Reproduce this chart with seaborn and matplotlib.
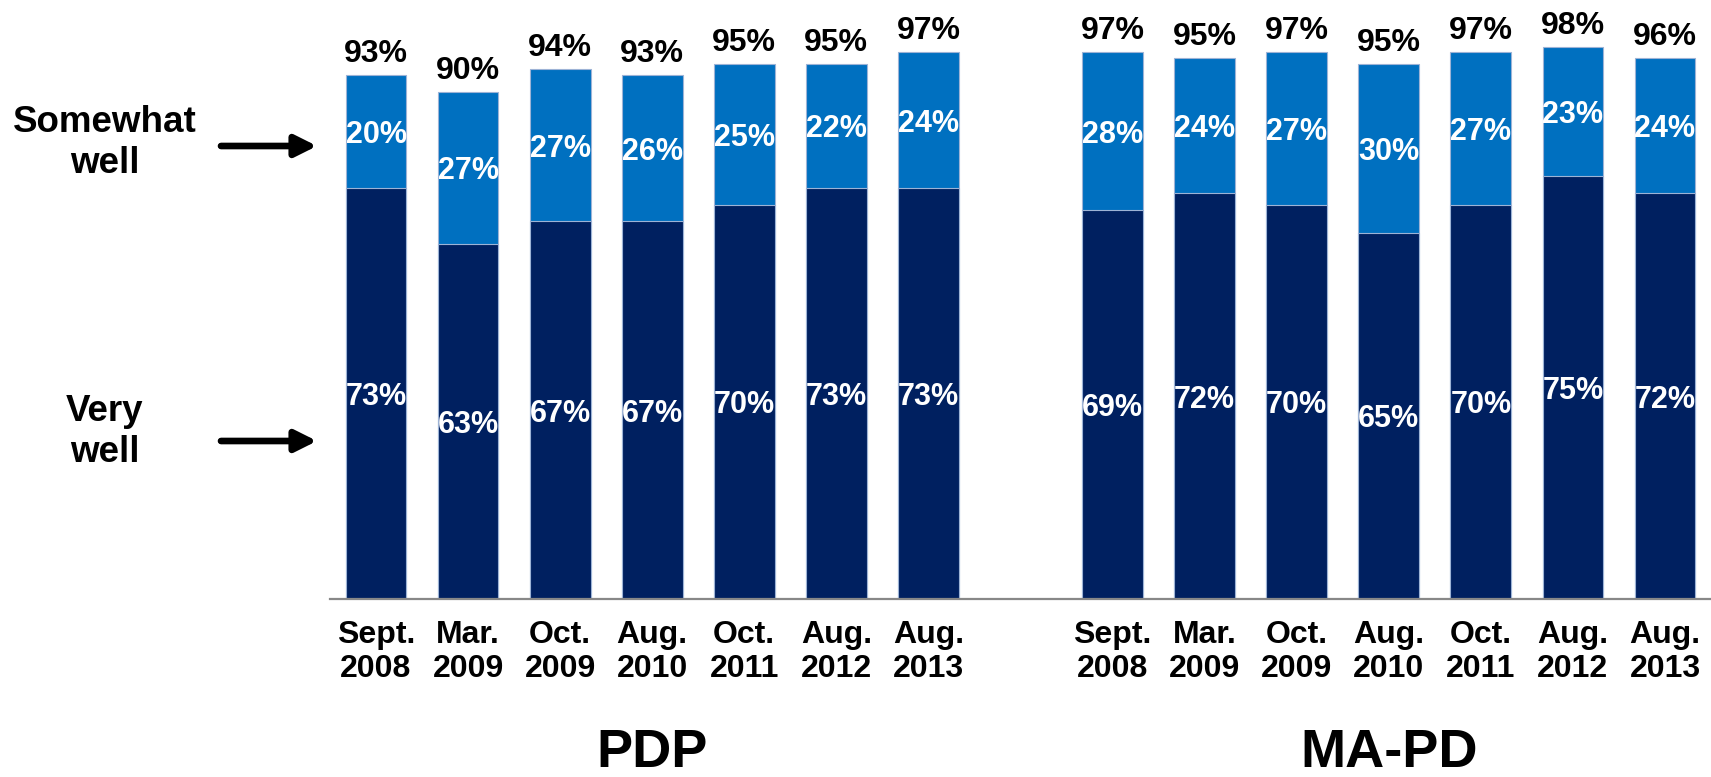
import matplotlib
matplotlib.use("Agg")
import matplotlib.pyplot as plt
import matplotlib.transforms as mtransforms
from matplotlib.patches import FancyArrowPatch
import seaborn as sns
import pandas as pd
import numpy as np

# ---- data ----
dates = ["Sept.\n2008", "Mar.\n2009", "Oct.\n2009", "Aug.\n2010",
         "Oct.\n2011", "Aug.\n2012", "Aug.\n2013"]
plans = ["PDP", "MA-PD"]
pdp_very = [73, 63, 67, 67, 70, 73, 73]
pdp_somewhat = [20, 27, 27, 26, 25, 22, 24]
pdp_total = [93, 90, 94, 93, 95, 95, 97]
mapd_very = [69, 72, 70, 65, 70, 75, 72]
mapd_somewhat = [28, 24, 27, 30, 27, 23, 24]
mapd_total = [97, 95, 97, 95, 97, 98, 96]
side_labels = ["Somewhat\nwell", "Very\nwell"]

LIGHT = "#0070C0"
DARK = "#002060"
FONT = ["Liberation Sans", "DejaVu Sans"]

rows = []
for plan, very, some, tot in [("PDP", pdp_very, pdp_somewhat, pdp_total),
                              ("MA-PD", mapd_very, mapd_somewhat, mapd_total)]:
    for d, v, s, t in zip(dates, very, some, tot):
        rows.append(dict(key=f"{plan}|{d}", plan=plan, date=d, very=v,
                         somewhat=s, stack=v + s, total=t))
df = pd.DataFrame(rows)
order = [f"PDP|{d}" for d in dates] + ["gap"] + [f"MA-PD|{d}" for d in dates]
tick_labels = dates + [""] + dates

sns.set_style("white")
plt.rcParams["font.family"] = FONT
plt.rcParams["text.color"] = "black"
plt.rcParams["xtick.labelcolor"] = "black"

W, H = 1711, 777
fig = plt.figure(figsize=(W / 100, H / 100), dpi=100)
ax_bottom_px = 599
ax = fig.add_axes([330 / W, (H - ax_bottom_px) / H, 1 - 330 / W, ax_bottom_px / H])

sns.barplot(data=df, x="key", y="stack", order=order, color=LIGHT, width=0.66,
            edgecolor="#9DB3D6", linewidth=0.8, saturation=1, ax=ax, errorbar=None)
sns.barplot(data=df, x="key", y="very", order=order, color=DARK, width=0.66,
            edgecolor="#9DB3D6", linewidth=0.8, saturation=1, ax=ax, errorbar=None)

ax.set_ylim(0, 106.3)
ax.set_xlim(-0.5, len(order) - 0.5)

# labels
pos = {k: i for i, k in enumerate(order)}
for _, r in df.iterrows():
    i = pos[r["key"]]
    ax.annotate(f"{r['total']}%", xy=(i, r["stack"]), xytext=(0, 9.4),
                textcoords="offset points", ha="center", va="baseline",
                fontsize=23, fontweight="bold", color="black")
    ax.annotate(f"{r['somewhat']}%", xy=(i, (r["very"] + r["stack"]) / 2),
                ha="center", va="center_baseline", fontsize=22,
                fontweight="bold", color="white")
    ax.annotate(f"{r['very']}%", xy=(i, r["very"] / 2),
                ha="center", va="center_baseline", fontsize=22,
                fontweight="bold", color="white")

# axes styling
for s in ["top", "right", "left"]:
    ax.spines[s].set_visible(False)
ax.spines["bottom"].set_color("#888888")
ax.spines["bottom"].set_linewidth(1.6)
ax.set_yticks([])
ax.set_ylabel("")
ax.set_xlabel("")
ax.set_xticks(range(len(order)))
ax.set_xticklabels(tick_labels, fontsize=23, fontweight="bold", linespacing=1.2,
                   color="black")
ax.tick_params(axis="x", which="major", length=0, pad=15)
ax.set_xticks(np.arange(-0.5, len(order)), minor=True)
ax.tick_params(axis="x", which="minor", length=6, width=1.5, color="#888888",
               direction="out")
ax.patch.set_alpha(0)

# group labels
trans = mtransforms.blended_transform_factory(ax.transData, fig.transFigure)
for xc, name in [(3, plans[0]), (11, plans[1])]:
    ax.text(xc, 1 - 767 / H, name, transform=trans, ha="center", va="baseline",
            fontsize=39, fontweight="bold", color="black", clip_on=False)

# side labels with arrows
for lab, yc, ya in [(side_labels[0], 143, 146), (side_labels[1], 432, 441)]:
    fig.text(105 / W, 1 - yc / H, lab, ha="center", va="center", fontsize=26.5,
             fontweight="bold", color="black", linespacing=1.2)
    fig.add_artist(FancyArrowPatch(
        (221 / W, 1 - ya / H), (317 / W, 1 - ya / H), transform=fig.transFigure,
        arrowstyle="-|>", mutation_scale=32, lw=4.8, color="black",
        shrinkA=0, shrinkB=0))

fig.savefig("out.png", dpi=100)
